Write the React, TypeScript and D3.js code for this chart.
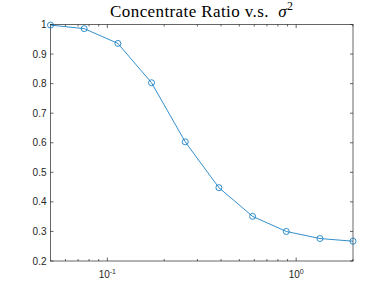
import React, { useEffect, useRef } from "react";
import * as d3 from "d3";

// sigma^2 values (log spaced) and concentrate ratio
const sigma2 = [0.05, 0.0754, 0.1137, 0.1714, 0.2585, 0.3898, 0.5878, 0.8865, 1.3367, 2.0];
const ratio = [0.998, 0.986, 0.936, 0.803, 0.603, 0.448, 0.351, 0.3, 0.276, 0.267];
const yTicks = [0.2, 0.3, 0.4, 0.5, 0.6, 0.7, 0.8, 0.9, 1];
const xMajor = [0.1, 1];
const xMinor = [0.06, 0.07, 0.08, 0.09, 0.2, 0.3, 0.4, 0.5, 0.6, 0.7, 0.8, 0.9, 2];

const W = 390;
const H = 293;
const margin = { left: 50.5, right: 37, top: 24.5, bottom: 32 };
const axisColor = "#262626";
const lineColor = "#0072BD";

export default function App() {
  const ref = useRef<SVGSVGElement>(null);

  useEffect(() => {
    const svg = d3.select(ref.current);
    svg.selectAll("*").remove();

    const x = d3.scaleLog().domain([0.05, 2]).range([margin.left, W - margin.right]);
    const y = d3.scaleLinear().domain([0.2, 1]).range([H - margin.bottom, margin.top]);
    const [x0, x1] = x.range();
    const [y0, y1] = y.range();

    const g = svg.append("g");

    // box
    g.append("rect")
      .attr("x", x0).attr("y", y1)
      .attr("width", x1 - x0).attr("height", y0 - y1)
      .attr("fill", "white")
      .attr("stroke", axisColor)
      .attr("stroke-width", 0.7);

    // y ticks (left and right, pointing inward)
    yTicks.forEach(t => {
      g.append("line").attr("x1", x0).attr("x2", x0 + 3).attr("y1", y(t)).attr("y2", y(t))
        .attr("stroke", axisColor).attr("stroke-width", 0.7);
      g.append("line").attr("x1", x1).attr("x2", x1 - 3).attr("y1", y(t)).attr("y2", y(t))
        .attr("stroke", axisColor).attr("stroke-width", 0.7);
      g.append("text")
        .attr("x", x0 - 4).attr("y", y(t))
        .attr("dy", "0.35em")
        .attr("text-anchor", "end")
        .style("font-family", "Liberation Sans, Arial, sans-serif")
        .style("font-size", "10px")
        .attr("fill", axisColor)
        .text(d3.format("~g")(t));
    });

    // x ticks
    const xt = (v: number, len: number) => {
      g.append("line").attr("x1", x(v)).attr("x2", x(v)).attr("y1", y0).attr("y2", y0 - len)
        .attr("stroke", axisColor).attr("stroke-width", 0.7);
      g.append("line").attr("x1", x(v)).attr("x2", x(v)).attr("y1", y1).attr("y2", y1 + len)
        .attr("stroke", axisColor).attr("stroke-width", 0.7);
    };
    xMinor.forEach(v => xt(v, 2));
    xMajor.forEach(v => {
      xt(v, 3.5);
      const e = Math.round(Math.log10(v));
      const txt = g.append("text")
        .attr("x", x(v)).attr("y", y0 + 17)
        .attr("text-anchor", "middle")
        .style("font-family", "Liberation Sans, Arial, sans-serif")
        .style("font-size", "10px")
        .attr("fill", axisColor);
      txt.append("tspan").text("10");
      txt.append("tspan").attr("dy", -4).style("font-size", "7px").text(String(e));
    });

    // line + markers
    const pts = sigma2.map((s, i) => [s, ratio[i]] as [number, number]);
    g.append("path")
      .datum(pts)
      .attr("fill", "none")
      .attr("stroke", lineColor)
      .attr("stroke-width", 0.8)
      .attr("d", d3.line<[number, number]>().x(d => x(d[0])).y(d => y(d[1])));
    g.selectAll("circle.pt")
      .data(pts)
      .enter()
      .append("circle")
      .attr("cx", d => x(d[0]))
      .attr("cy", d => y(d[1]))
      .attr("r", 3)
      .attr("fill", "none")
      .attr("stroke", lineColor)
      .attr("stroke-width", 0.8);

    // title
    const title = g.append("text")
      .attr("x", (x0 + x1) / 2 + 0)
      .attr("y", 16.7)
      .attr("text-anchor", "middle")
      .style("font-family", "Liberation Serif, serif")
      .style("font-size", "17px")
      .style("letter-spacing", "0.4px")
      .attr("fill", "black");
    title.append("tspan").text("Concentrate Ratio v.s.\u00a0\u00a0");
    title.append("tspan").style("font-style", "italic").text("σ");
    title.append("tspan").attr("dy", -7).style("font-size", "12px").text("2");
  }, []);

  return (
    <svg
      ref={ref}
      width={W}
      height={H}
      style={{ position: "absolute", left: 0, top: 0, background: "white" }}
    />
  );
}
